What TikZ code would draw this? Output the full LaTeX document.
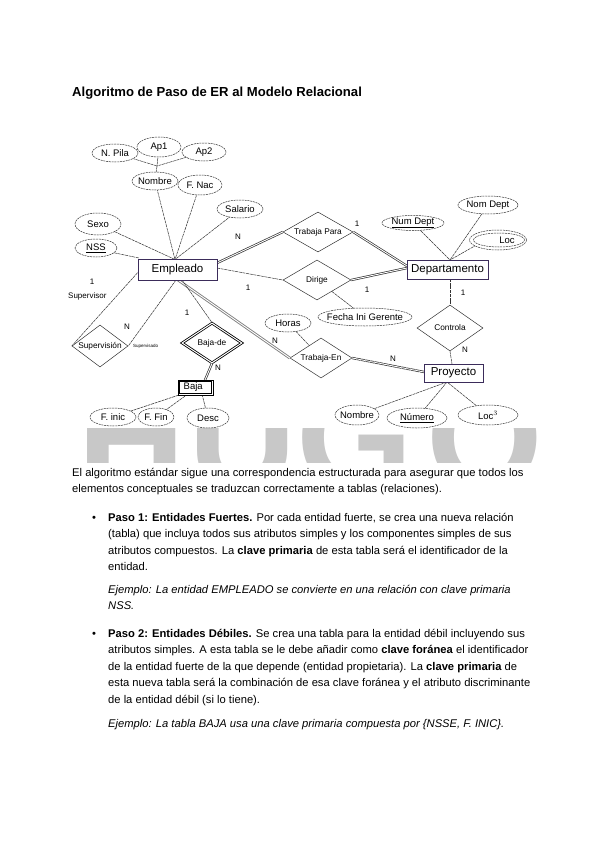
\documentclass[tikz,border=0pt]{standalone}
\usepackage{fontspec}
\setmainfont{Liberation Sans}
\usetikzlibrary{shapes.geometric}
\definecolor{entc}{HTML}{3B2C5A}
\definecolor{lnc}{HTML}{333333}
\definecolor{wmk}{HTML}{C8C8C8}
\tikzset{
  ent/.style={draw=entc, line width=0.9pt, fill=white, inner sep=0pt, font=\fontsize{11.5}{12}\selectfont},
  rel/.style={diamond, draw=lnc, line width=0.5pt, fill=white, inner sep=0pt},
  rtxt/.style={font=\fontsize{8.3}{9}\selectfont, inner sep=0pt},
  attr/.style={ellipse, draw=lnc, line width=0.5pt, dash pattern=on 2pt off 0.8pt, fill=white, inner sep=0pt},
  atxt/.style={font=\fontsize{9.5}{10}\selectfont, inner sep=0pt},
  conn/.style={draw=lnc, line width=0.5pt, dash pattern=on 3pt off 0.7pt},
  dbl/.style={draw=lnc, double=white, double distance=0.9pt, line width=0.7pt},
  lbl/.style={font=\fontsize{8}{9}\selectfont, inner sep=0pt},
  wm/.style={text=wmk, font=\fontsize{150}{150}\selectfont\bfseries, anchor=base, inner sep=0pt},
  para/.style={anchor=base west, inner sep=0pt, font=\fontsize{11.2}{12}\selectfont}
}
\begin{document}
\begin{tikzpicture}[x=1pt,y=-1pt]
\useasboundingbox (0,0) rectangle (600,848);
\fill[white] (0,0) rectangle (600,848);
% watermark
\begin{scope}
\clip (0,428) rectangle (600,462);
\node[wm] (wmH) at (132,489) {H};
\node[wm] (wmU) at (243,489) {U};
\node[wm] (wmG) at (355,489) {G};
\node[wm] (wmO) at (485,489) {O};
\end{scope}
% title
\node[anchor=base west, inner sep=0pt, font=\fontsize{13.1}{14}\selectfont\bfseries] (title) at (72,97) {Algoritmo de Paso de ER al Modelo Relacional};

% coordinates for converging connectors
\coordinate (empT) at (175,259.5);
\coordinate (depT) at (450,260);
\coordinate (proyB) at (447,382);
\coordinate (nomJ) at (157,166);

% attribute connectors (drawn first, shapes cover them)
\path[conn] (115,153) -- (nomJ);
\path[conn] (159,147) -- (nomJ);
\path[conn] (204,152) -- (nomJ);
\path[conn] (nomJ) -- (155,181);
\path[conn] (155,181) -- (empT);
\path[conn] (200,185) -- (empT);
\path[conn] (98,224) -- (empT);
\path[conn] (240,209) -- (empT);
\path[conn] (96,249) -- (139,258);
\path[conn] (413,223) -- (depT);
\path[conn] (488,205) -- (depT);
\path[conn] (480,243) -- (depT);
\path[conn] (357,415) -- (proyB);
\path[conn] (417,418) -- (proyB);
\path[conn] (488,415) -- (proyB);
\path[conn] (317,280) -- (365,317);
\path[conn] (288,323) -- (321,358);
\path[conn] (182,394) -- (113,417);
\path[conn] (188,394) -- (156,417);
\path[conn] (202,394) -- (208,418);

% relationships
\node[rel, minimum width=70pt, minimum height=40pt] (tp) at (318,232) {};
\node[rel, minimum width=68pt, minimum height=40pt] (dir) at (317,280) {};
\node[rel, minimum width=66pt, minimum height=46pt] (ctl) at (450,328) {};
\node[rel, minimum width=62pt, minimum height=40pt] (ten) at (321,358) {};
\node[rel, minimum width=56pt, minimum height=42pt] (sup) at (100,346) {};
\node[rel, minimum width=60pt, minimum height=40pt, draw=black, double=white, double distance=1pt, line width=0.8pt] (bde) at (212,343) {};
\node[rtxt] at (tp) {Trabaja Para};
\node[rtxt] at (dir) {Dirige};
\node[rtxt] at (ctl) {Controla};
\node[rtxt] at (ten) {Trabaja-En};
\node[rtxt] at (sup) {Supervisión};
\node[rtxt] at (bde) {Baja-de};

% attributes
\node[attr, minimum width=46pt, minimum height=18pt] (npila) at (115,153) {};
\node[attr, minimum width=44pt, minimum height=20pt] (ap1) at (159,147) {};
\node[attr, minimum width=44pt, minimum height=18pt] (ap2) at (204,152) {};
\node[attr, minimum width=46pt, minimum height=18pt] (nombre) at (155,181) {};
\node[attr, minimum width=44pt, minimum height=20pt] (fnac) at (200,185) {};
\node[attr, minimum width=46pt, minimum height=18pt] (salario) at (240,209) {};
\node[attr, minimum width=46pt, minimum height=22pt] (sexo) at (98,224) {};
\node[attr, minimum width=42pt, minimum height=18pt] (nss) at (96,248) {};
\node[attr, minimum width=62pt, minimum height=15pt] (numd) at (413,223) {};
\node[attr, minimum width=60pt, minimum height=18pt] (nomd) at (488,205) {};
\node[attr, minimum width=57pt, minimum height=20pt] (loc) at (498,240) {};
\node[attr, fill=none, minimum width=51pt, minimum height=14pt] (locin) at (499,240) {};
\node[attr, minimum width=94pt, minimum height=18pt] (fig) at (365,317) {};
\node[attr, minimum width=46pt, minimum height=18pt] (horas) at (288,323) {};
\node[attr, minimum width=44pt, minimum height=20pt] (pnom) at (357,415) {};
\node[attr, minimum width=60pt, minimum height=20pt] (pnum) at (417,418) {};
\node[attr, minimum width=60pt, minimum height=20pt] (ploc) at (488,415) {};
\node[attr, minimum width=46pt, minimum height=18pt] (finic) at (113,417) {};
\node[attr, minimum width=36pt, minimum height=18pt] (ffin) at (156,417) {};
\node[attr, minimum width=42pt, minimum height=20pt] (desc) at (208,418) {};
\node[atxt] at (npila) {N. Pila};
\node[atxt] at (ap1) {Ap1};
\node[atxt] at (ap2) {Ap2};
\node[atxt] at (nombre) {Nombre};
\node[atxt] at (fnac) {F. Nac};
\node[atxt] at (salario) {Salario};
\node[atxt] at (sexo) {Sexo};
\node[atxt] at (nss) {\underline{NSS}};
\node[atxt] at (numd) {\underline{Num Dept}};
\node[atxt] at (nomd) {Nom Dept};
\node[atxt] at (507,240) {Loc};
\node[atxt] at (fig) {Fecha Ini Gerente};
\node[atxt] at (horas) {Horas};
\node[atxt] at (pnom) {Nombre};
\node[atxt] at (pnum) {\underline{Número}};
\node[atxt] at (ploc) {Loc$^{3}$};
\node[atxt] at (finic) {F. inic};
\node[atxt] at (ffin) {F. Fin};
\node[atxt] at (desc) {Desc};

% relationship connectors
\coordinate (empNE) at (217,263);
\coordinate (empE) at (217,268);
\coordinate (empS) at (178,280);
\path[dbl] (empNE) -- (tp.west);
\path[dbl] (tp.east) -- (407,266);
\path[conn] (empE) -- (dir.west);
\path[dbl] (dir.east) -- (407,268);
\path[conn] (450,279) -- (ctl.north);
\path[conn] (ctl.south) -- (452,364);
\path[draw=gray, double=white, double distance=0.9pt, line width=0.9pt] (empS) -- (ten.west);
\path[dbl, dash pattern=on 4pt off 0.6pt] (ten.east) -- (424,372);
\path[conn] (140,270) -- (sup.west);
\path[conn] (176,280) -- (sup.east);
\path[conn] (182,280) -- (bde.north);
\path[dbl] (bde.south) -- (205,380);

% entities
\node[ent, minimum width=79pt, minimum height=21pt] (emp) at (177.5,270) {Empleado};
\node[ent, minimum width=81pt, minimum height=19pt] (dep) at (447.5,269.5) {Departamento};
\node[ent, minimum width=59pt, minimum height=18pt] (proy) at (453.5,373) {Proyecto};
\node[draw=black, line width=0.8pt, fill=white, minimum width=35pt, minimum height=15pt, inner sep=0pt] (baja) at (195.5,387.5) {};
\draw[black, line width=0.6pt] ([xshift=2pt,yshift=-2pt]baja.north west) rectangle ([xshift=-2pt,yshift=2pt]baja.south east);
\node[anchor=west, inner sep=0pt, font=\fontsize{9.5}{10}\selectfont] (bajatxt) at (183.5,387.5) {Baja};

% cardinality labels
\node[lbl] (l1) at (238,237) {N};
\node[lbl] (l2) at (357,224) {1};
\node[lbl] (l3) at (248,288) {1};
\node[lbl] (l4) at (367,290) {1};
\node[lbl] (l5) at (463,293) {1};
\node[lbl] (l6) at (465,350) {N};
\node[lbl] (l7) at (393,359) {N};
\node[lbl] (l8) at (275,341) {N};
\node[lbl] (l9) at (92,282) {1};
\node[lbl, anchor=west] (l10) at (68,296) {Supervisor};
\node[lbl] (l11) at (127,327) {N};
\node[lbl, font=\fontsize{4.5}{5}\selectfont, anchor=west] (l12) at (133,346) {Supervisado};
\node[lbl] (l13) at (187,313) {1};
\node[lbl] (l14) at (218,368) {N};

% text
\node[para] (p1) at (72,476) {El algoritmo estándar sigue una correspondencia estructurada para asegurar que todos los};
\node[para] (p2) at (72,492.5) {elementos conceptuales se traduzcan correctamente a tablas (relaciones).};
\node[para] (b1) at (92,521) {•};
\node[para] (s1a) at (108,521) {\textbf{Paso 1: Entidades Fuertes.} Por cada entidad fuerte, se crea una nueva relación};
\node[para] (s1b) at (108,537.5) {(tabla) que incluya todos sus atributos simples y los componentes simples de sus};
\node[para] (s1c) at (108,554) {atributos compuestos. La \textbf{clave primaria} de esta tabla será el identificador de la};
\node[para] (s1d) at (108,570.5) {entidad.};
\node[para] (e1a) at (108,593) {\itshape Ejemplo: La entidad EMPLEADO se convierte en una relación con clave primaria};
\node[para] (e1b) at (108,609.5) {\itshape NSS.};
\node[para] (b2) at (92,637) {•};
\node[para] (s2a) at (108,637) {\textbf{Paso 2: Entidades Débiles.} Se crea una tabla para la entidad débil incluyendo sus};
\node[para] (s2b) at (108,653.5) {atributos simples. A esta tabla se le debe añadir como \textbf{clave foránea} el identificador};
\node[para] (s2c) at (108,670) {de la entidad fuerte de la que depende (entidad propietaria). La \textbf{clave primaria} de};
\node[para] (s2d) at (108,686.5) {esta nueva tabla será la combinación de esa clave foránea y el atributo discriminante};
\node[para] (s2e) at (108,703) {de la entidad débil (si lo tiene).};
\node[para] (e2a) at (108,727) {\itshape Ejemplo: La tabla BAJA usa una clave primaria compuesta por \{NSSE, F. INIC\}.};
\end{tikzpicture}
\end{document}
